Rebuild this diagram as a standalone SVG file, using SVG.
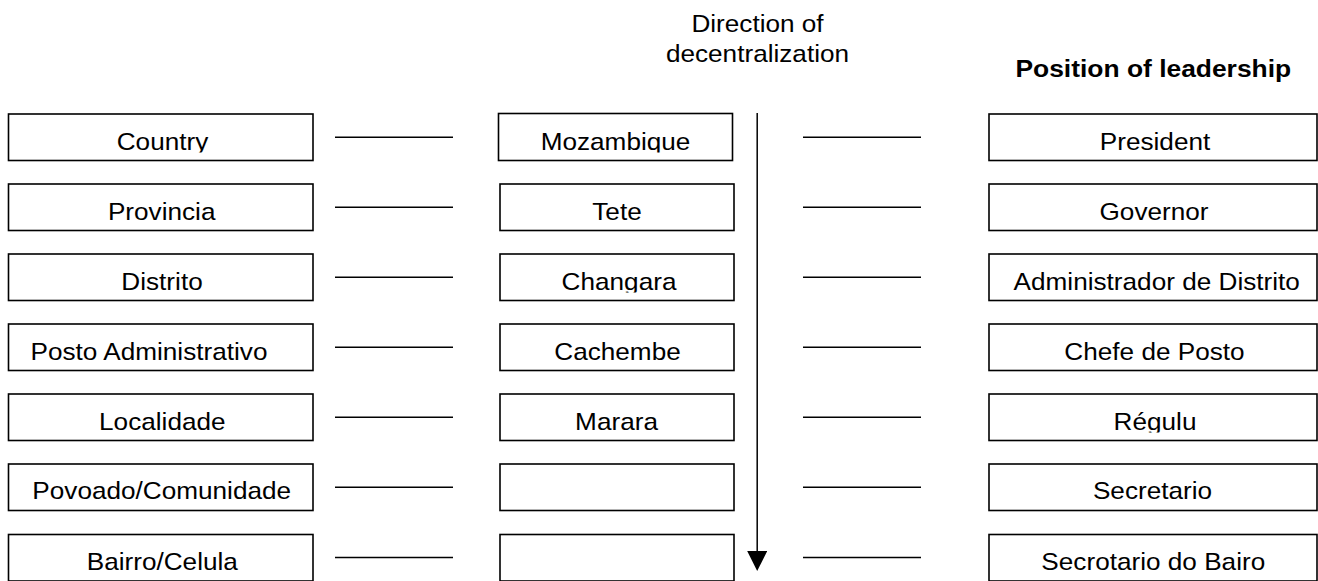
<svg xmlns="http://www.w3.org/2000/svg" width="1318" height="581" viewBox="0 0 1318 581">
  <style>
    .box { fill: #ffffff; stroke: #000000; stroke-width: 1.6; }
    .conn { stroke: #000000; stroke-width: 1.5; fill: none; }
    .lbl { font-family: "Liberation Sans", Arial, sans-serif; font-size: 24px; fill: #000000; text-anchor: middle; }
    .head { font-family: "Liberation Sans", Arial, sans-serif; font-size: 24px; fill: #000000; text-anchor: middle; }
    .bold { font-weight: bold; }
  </style>
  <defs>
    <marker id="arrowHead" markerUnits="userSpaceOnUse" markerWidth="20" markerHeight="20" refX="10" refY="0" orient="auto" viewBox="0 -10 20 20">
      <polygon points="0,-10 20,0 0,10" fill="#000000"/>
    </marker>
    <!-- label bands: text is cut off just under the baseline inside each box -->
    <clipPath id="row1" clipPathUnits="userSpaceOnUse"><rect x="0" y="114" width="1318" height="38.5"/></clipPath>
    <clipPath id="row2" clipPathUnits="userSpaceOnUse"><rect x="0" y="184" width="1318" height="38.5"/></clipPath>
    <clipPath id="row3" clipPathUnits="userSpaceOnUse"><rect x="0" y="254" width="1318" height="38.5"/></clipPath>
    <clipPath id="row4" clipPathUnits="userSpaceOnUse"><rect x="0" y="324" width="1318" height="38.5"/></clipPath>
    <clipPath id="row5" clipPathUnits="userSpaceOnUse"><rect x="0" y="394" width="1318" height="38.5"/></clipPath>
    <clipPath id="row6" clipPathUnits="userSpaceOnUse"><rect x="0" y="464" width="1318" height="38.5"/></clipPath>
    <clipPath id="row7" clipPathUnits="userSpaceOnUse"><rect x="0" y="534" width="1318" height="38.5"/></clipPath>
  </defs>

  <rect width="1318" height="581" fill="#ffffff"/>

  <!-- headings -->
  <g id="heading-direction">
    <text class="head" transform="translate(757.5,31.5) scale(1.09,1)">Direction of</text>
    <text class="head" transform="translate(757.5,61.5) scale(1.09,1)">decentralization</text>
  </g>
  <g id="heading-leadership">
    <text class="head bold" transform="translate(1153.3,77) scale(1.10,1)">Position of leadership</text>
  </g>

  <!-- connectors -->
  <g id="connectors">
    <line class="conn" x1="335" y1="137.3" x2="453" y2="137.3"/>
    <line class="conn" x1="335" y1="207.3" x2="453" y2="207.3"/>
    <line class="conn" x1="335" y1="277.3" x2="453" y2="277.3"/>
    <line class="conn" x1="335" y1="347.3" x2="453" y2="347.3"/>
    <line class="conn" x1="335" y1="417.3" x2="453" y2="417.3"/>
    <line class="conn" x1="335" y1="487.3" x2="453" y2="487.3"/>
    <line class="conn" x1="335" y1="557.5" x2="453" y2="557.5"/>

    <line class="conn" x1="803" y1="137.3" x2="921" y2="137.3"/>
    <line class="conn" x1="803" y1="207.3" x2="921" y2="207.3"/>
    <line class="conn" x1="803" y1="277.3" x2="921" y2="277.3"/>
    <line class="conn" x1="803" y1="347.3" x2="921" y2="347.3"/>
    <line class="conn" x1="803" y1="417.3" x2="921" y2="417.3"/>
    <line class="conn" x1="803" y1="487.3" x2="921" y2="487.3"/>
    <line class="conn" x1="803" y1="557.5" x2="921" y2="557.5"/>

    <!-- direction arrow -->
    <line class="conn" x1="757.2" y1="113" x2="757.2" y2="561" marker-end="url(#arrowHead)"/>
  </g>

  <!-- left column: administrative level -->
  <g id="level-country">
    <rect class="box" x="8.5" y="114" width="304.5" height="46.5"/>
    <g clip-path="url(#row1)"><text class="lbl" transform="translate(162.5,150) scale(1.09,1)">Country</text></g>
  </g>
  <g id="level-provincia">
    <rect class="box" x="8.5" y="184" width="304.5" height="46.5"/>
    <g clip-path="url(#row2)"><text class="lbl" transform="translate(161.7,220) scale(1.09,1)">Provincia</text></g>
  </g>
  <g id="level-distrito">
    <rect class="box" x="8.5" y="254" width="304.5" height="46.5"/>
    <g clip-path="url(#row3)"><text class="lbl" transform="translate(162,289.5) scale(1.09,1)">Distrito</text></g>
  </g>
  <g id="level-posto">
    <rect class="box" x="8.5" y="324" width="304.5" height="46.5"/>
    <g clip-path="url(#row4)"><text class="lbl" transform="translate(149,359.5) scale(1.09,1)">Posto Administrativo</text></g>
  </g>
  <g id="level-localidade">
    <rect class="box" x="8.5" y="394" width="304.5" height="46.5"/>
    <g clip-path="url(#row5)"><text class="lbl" transform="translate(162.3,429.5) scale(1.09,1)">Localidade</text></g>
  </g>
  <g id="level-povoado">
    <rect class="box" x="8.5" y="464" width="304.5" height="46.5"/>
    <g clip-path="url(#row6)"><text class="lbl" transform="translate(161.7,499) scale(1.09,1)">Povoado/Comunidade</text></g>
  </g>
  <g id="level-bairro">
    <rect class="box" x="8.5" y="534.5" width="304.5" height="46.5"/>
    <g clip-path="url(#row7)"><text class="lbl" transform="translate(162.3,569.5) scale(1.09,1)">Bairro/Celula</text></g>
  </g>

  <!-- middle column: example place -->
  <g id="place-mozambique">
    <rect class="box" x="498.5" y="113.5" width="234" height="47"/>
    <g clip-path="url(#row1)"><text class="lbl" transform="translate(615.5,150) scale(1.09,1)">Mozambique</text></g>
  </g>
  <g id="place-tete">
    <rect class="box" x="500" y="184" width="234" height="46.5"/>
    <g clip-path="url(#row2)"><text class="lbl" transform="translate(617,220) scale(1.09,1)">Tete</text></g>
  </g>
  <g id="place-changara">
    <rect class="box" x="500" y="254" width="234" height="46.5"/>
    <g clip-path="url(#row3)"><text class="lbl" transform="translate(619,289.5) scale(1.09,1)">Changara</text></g>
  </g>
  <g id="place-cachembe">
    <rect class="box" x="500" y="324" width="234" height="46.5"/>
    <g clip-path="url(#row4)"><text class="lbl" transform="translate(617.5,359.5) scale(1.09,1)">Cachembe</text></g>
  </g>
  <g id="place-marara">
    <rect class="box" x="500" y="394" width="234" height="46.5"/>
    <g clip-path="url(#row5)"><text class="lbl" transform="translate(616.5,429.5) scale(1.09,1)">Marara</text></g>
  </g>
  <g id="place-empty-6">
    <rect class="box" x="500" y="464" width="234" height="46.5"/>
  </g>
  <g id="place-empty-7">
    <rect class="box" x="500" y="534.5" width="234" height="46.5"/>
  </g>

  <!-- right column: position of leadership -->
  <g id="leader-president">
    <rect class="box" x="989" y="114" width="328" height="46.5"/>
    <g clip-path="url(#row1)"><text class="lbl" transform="translate(1155,150) scale(1.09,1)">President</text></g>
  </g>
  <g id="leader-governor">
    <rect class="box" x="989" y="184" width="328" height="46.5"/>
    <g clip-path="url(#row2)"><text class="lbl" transform="translate(1154,220) scale(1.09,1)">Governor</text></g>
  </g>
  <g id="leader-administrador">
    <rect class="box" x="989" y="254" width="328" height="46.5"/>
    <g clip-path="url(#row3)"><text class="lbl" transform="translate(1156.7,289.5) scale(1.09,1)">Administrador de Distrito</text></g>
  </g>
  <g id="leader-chefe">
    <rect class="box" x="989" y="324" width="328" height="46.5"/>
    <g clip-path="url(#row4)"><text class="lbl" transform="translate(1154.5,359.5) scale(1.09,1)">Chefe de Posto</text></g>
  </g>
  <g id="leader-regulu">
    <rect class="box" x="989" y="394" width="328" height="46.5"/>
    <g clip-path="url(#row5)"><text class="lbl" transform="translate(1155,430) scale(1.09,1)">Régulu</text></g>
  </g>
  <g id="leader-secretario">
    <rect class="box" x="989" y="464" width="328" height="46.5"/>
    <g clip-path="url(#row6)"><text class="lbl" transform="translate(1152.5,499) scale(1.09,1)">Secretario</text></g>
  </g>
  <g id="leader-secretario-bairro">
    <rect class="box" x="989" y="534.5" width="328" height="46.5"/>
    <g clip-path="url(#row7)"><text class="lbl" transform="translate(1153.3,569.5) scale(1.09,1)">Secrotario do Bairo</text></g>
  </g>
</svg>
